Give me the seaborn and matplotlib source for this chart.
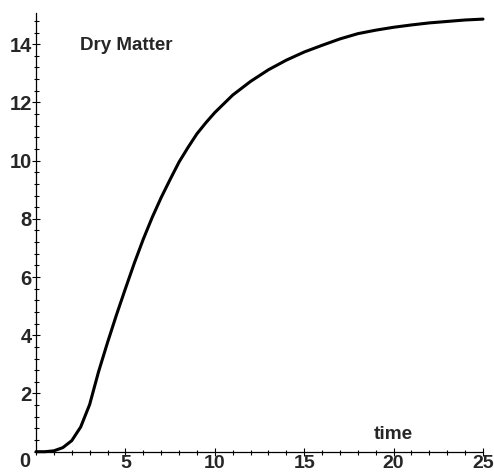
import numpy as np
import pandas as pd
import matplotlib
matplotlib.use("Agg")
import matplotlib.pyplot as plt
import seaborn as sns
from matplotlib.ticker import MultipleLocator

# dry matter growth curve
time = [0, 0.5, 1, 1.5, 2, 2.5, 3, 3.5, 4, 4.5, 5, 5.5, 6, 6.5, 7, 7.5, 8,
        8.5, 9, 9.5, 10, 11, 12, 13, 14, 15, 16, 17, 18, 19, 20, 21, 22,
        23, 24, 25]
dry_matter = [0, 0, 0.03, 0.14, 0.38, 0.85, 1.62, 2.75, 3.75, 4.7, 5.6, 6.48,
              7.3, 8.05, 8.73, 9.35, 9.95, 10.45, 10.92, 11.3, 11.65, 12.25,
              12.72, 13.12, 13.45, 13.73, 13.96, 14.18, 14.36, 14.48, 14.58,
              14.66, 14.73, 14.78, 14.83, 14.86]
x_ticks = [5, 10, 15, 20, 25]
y_ticks = [2, 4, 6, 8, 10, 12, 14]

df = pd.DataFrame({'time': time, 'dry': dry_matter})

sns.set_style('white')
plt.rcParams['font.family'] = ['Liberation Sans', 'DejaVu Sans']

fig = plt.figure(figsize=(4.94, 4.73), dpi=100)
ax = fig.add_axes([36 / 494, (473 - 451.7) / 473, (483 - 36) / 494, (451.7 - 13) / 473])

sns.lineplot(data=df, x='time', y='dry', ax=ax, color='black', linewidth=2.2)
for ln in ax.lines:
    ln.set_clip_on(False)
    ln.set_solid_joinstyle('round')

ax.set_xlim(0, 25)
ax.set_ylim(0, 15.07)
sns.despine(ax=ax)
for s in ['left', 'bottom']:
    ax.spines[s].set_color('black')
    ax.spines[s].set_linewidth(0.9)

ax.set_xticks(x_ticks)
ax.set_yticks(y_ticks)
ax.xaxis.set_minor_locator(MultipleLocator(1))
ax.yaxis.set_minor_locator(MultipleLocator(0.4))
ax.tick_params(which='major', direction='inout', length=6, width=0.8, color='black',
               labelsize=14.5, pad=0, bottom=True, left=True)
ax.tick_params(which='minor', direction='inout', length=3.6, width=0.8, color='black',
               bottom=True, left=True)
ax.tick_params(axis='x', which='major', labelsize=14, pad=-0.6)
for lab in ax.get_xticklabels() + ax.get_yticklabels():
    lab.set_fontweight('bold')

ax.set_xlabel('')
ax.set_ylabel('')
ax.text(-0.3, -0.32, '0', ha='right', va='center', fontsize=14.5, fontweight='bold')
ax.text(2.46, 13.95, 'Dry Matter', ha='left', va='center', fontsize=13.5, fontweight='bold')
ax.text(20, 0.6, 'time', ha='center', va='center', fontsize=13.7, fontweight='bold')

fig.savefig('out.png', dpi=100)
